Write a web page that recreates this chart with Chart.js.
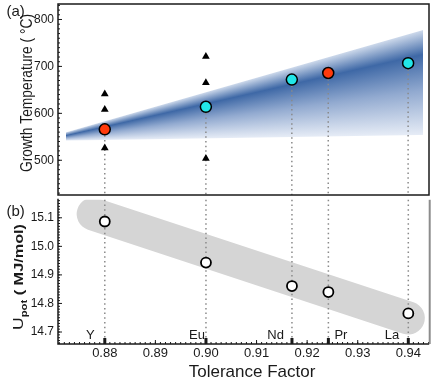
<!DOCTYPE html>
<html>
<head>
<meta charset="utf-8">
<script src="https://cdn.jsdelivr.net/npm/chart.js@4"></script>
<style>
body { margin: 0; background: #fff; width: 436px; height: 382px; position: relative; overflow: hidden; }
canvas { position: absolute; left: 0; }
/* chart.js keeps ~5px above/below the plot, so the canvases are shifted to line the panels up */
#top { top: -3px; }
#bot { top: 193px; }
</style>
</head>
<body>
<canvas id="top" width="436" height="205"></canvas>
<canvas id="bot" width="436" height="189"></canvas>
<script>
// values
const elements = ['Y', 'Eu', 'Nd', 'Pr', 'La'];
const tolerance = [0.88, 0.90, 0.917, 0.9242, 0.94];
const growthTemp = [566, 614, 672, 686, 707];
const redElements = ['Y', 'Pr'];
const triTolerance = [0.88, 0.88, 0.88, 0.90, 0.90, 0.90];
const triTemp = [641, 608, 526, 721, 665, 504];
const upot = [15.087, 14.943, 14.861, 14.840, 14.765];

// shaded window (top) and grey trend (bottom)
const bandTolerance = [0.8725, 0.9428];
const bandUpper = [560, 777];
const bandCore = [553, 725];
const bandLower = [542, 554];
const trendTolerance = [0.8777, 0.94];
const trendUpot = [15.113, 14.749];

const tempTicks = [500, 600, 700, 800];
const upotTicks = [14.7, 14.8, 14.9, 15.0, 15.1];
const tolTicks = [0.88, 0.89, 0.90, 0.91, 0.92, 0.93, 0.94];

const font = 'Liberation Sans';
const ink = '#1a1a1a';
const xRange = { min: 0.87075, max: 0.94413 };

// fixed axis width, and no extra room for the end labels
function fixWidth(s) {
    s.width = 58;
    s.paddingTop = 0;
    s.paddingBottom = 0;
}

function minorValues(min, max, step) {
    const out = [];
    for (let k = Math.ceil(min / step - 1e-9); k * step <= max + 1e-9; k++) out.push(k * step);
    return out;
}

function leftTicks(ctx, scale, area, values, len) {
    values.forEach(v => {
        const y = scale.getPixelForValue(v);
        ctx.beginPath();
        ctx.moveTo(area.left, y);
        ctx.lineTo(area.left + len, y);
        ctx.stroke();
    });
}

function bottomTicks(ctx, scale, area, values, len) {
    values.forEach(v => {
        const x = scale.getPixelForValue(v);
        ctx.beginPath();
        ctx.moveTo(x, area.bottom);
        ctx.lineTo(x, area.bottom - len);
        ctx.stroke();
    });
}

function dotted(ctx, x, y0, y1) {
    ctx.save();
    ctx.strokeStyle = '#8a8a8a';
    ctx.lineWidth = 1.5;
    ctx.setLineDash([1.5, 3.2]);
    ctx.beginPath();
    ctx.moveTo(x, y0);
    ctx.lineTo(x, y1);
    ctx.stroke();
    ctx.restore();
}

// rotated title squeezed/stretched to a given length
function rotatedText(ctx, parts, cx, cy, length) {
    ctx.save();
    ctx.textAlign = 'left';
    ctx.textBaseline = 'alphabetic';
    let w = 0;
    parts.forEach(p => { ctx.font = p.font; p.w = ctx.measureText(p.text).width; w += p.w; });
    ctx.translate(cx, cy);
    ctx.rotate(-Math.PI / 2);
    ctx.scale(length / w, 1);
    ctx.fillStyle = ink;
    let x = -w / 2;
    parts.forEach(p => { ctx.font = p.font; ctx.fillText(p.text, x, p.dy || 0); x += p.w; });
    ctx.restore();
}

const topPlugin = {
    id: 'topDecor',
    beforeDatasetsDraw(chart) {
        const { ctx, scales: { x, y }, chartArea } = chart;
        const x0 = x.getPixelForValue(bandTolerance[0]);
        const x1 = x.getPixelForValue(bandTolerance[1]);
        const lerp = (arr, t) => arr[0] + (arr[1] - arr[0]) * t;
        ctx.save();
        for (let px = Math.floor(x0); px < x1; px++) {
            const t = (px + 0.5 - x0) / (x1 - x0);
            const yU = y.getPixelForValue(lerp(bandUpper, t));
            const yC = y.getPixelForValue(lerp(bandCore, t));
            const yL = y.getPixelForValue(lerp(bandLower, t));
            const c = Math.min(Math.max((yC - yU) / (yL - yU), 0.01), 0.99);
            const g = ctx.createLinearGradient(0, yU, 0, yL);
            g.addColorStop(0, 'rgb(205,217,235)');
            g.addColorStop(c, 'rgb(62,104,166)');
            g.addColorStop(c + (1 - c) * 0.45, 'rgb(146,170,208)');
            g.addColorStop(1, 'rgb(230,236,246)');
            ctx.fillStyle = g;
            ctx.fillRect(px, yU, 1, yL - yU);
        }
        ctx.restore();
        tolerance.forEach((t, i) => {
            dotted(ctx, x.getPixelForValue(t), y.getPixelForValue(growthTemp[i]) + 6, chartArea.bottom);
        });
    },
    afterDraw(chart) {
        const { ctx, scales: { y }, chartArea: a } = chart;
        ctx.save();
        ctx.strokeStyle = ink;
        ctx.lineWidth = 1;
        leftTicks(ctx, y, a, minorValues(y.min, y.max, 10), 2);
        leftTicks(ctx, y, a, tempTicks, 4);
        ctx.lineWidth = 1.5;
        ctx.strokeRect(a.left, a.top, a.right - a.left, a.bottom - a.top);
        ctx.fillStyle = ink;
        ctx.font = '15px ' + font;
        ctx.textBaseline = 'middle';
        ctx.textAlign = 'left';
        ctx.fillText('(a)', 6.5, 15);
        rotatedText(ctx, [{ text: 'Growth Temperature ( °C)', font: '17px ' + font }], 31.5, 96, 158);
        ctx.restore();
    }
};

const botPlugin = {
    id: 'botDecor',
    afterDatasetDraw(chart, args) {
        if (args.index !== 0) return;
        const { ctx, scales: { x }, chartArea } = chart;
        tolerance.forEach(t => dotted(ctx, x.getPixelForValue(t), chartArea.top, chartArea.bottom));
    },
    afterDraw(chart) {
        const { ctx, scales: { x, y }, chartArea: a } = chart;
        ctx.save();
        ctx.strokeStyle = ink;
        ctx.lineWidth = 1;
        leftTicks(ctx, y, a, minorValues(y.min, y.max, 0.01), 2);
        leftTicks(ctx, y, a, upotTicks, 4);
        bottomTicks(ctx, x, a, minorValues(x.min, x.max, 0.001), 2);
        bottomTicks(ctx, x, a, tolTicks, 4);
        ctx.lineWidth = 3;
        bottomTicks(ctx, x, a, tolerance, 6);
        ctx.lineWidth = 1.5;
        ctx.beginPath();
        ctx.moveTo(a.right, a.bottom);
        ctx.lineTo(a.left, a.bottom);
        ctx.lineTo(a.left, a.top - 1);
        ctx.stroke();
        ctx.strokeStyle = '#8c8c8c';
        ctx.lineWidth = 2;
        ctx.beginPath();
        ctx.moveTo(a.right + 0.5, a.top);
        ctx.lineTo(a.right + 0.5, a.bottom);
        ctx.stroke();

        // element names next to their ticks
        ctx.fillStyle = ink;
        ctx.font = '13px ' + font;
        ctx.textBaseline = 'alphabetic';
        const shift = [-10, -1, -8, 6, -9];
        elements.forEach((e, i) => {
            ctx.textAlign = shift[i] < 0 ? 'right' : 'left';
            ctx.fillText(e, x.getPixelForValue(tolerance[i]) + shift[i], a.bottom - 5.5);
        });

        ctx.font = '15px ' + font;
        ctx.textAlign = 'left';
        ctx.textBaseline = 'middle';
        ctx.fillText('(b)', 6.5, 19);
        ctx.font = '17px ' + font;
        ctx.textAlign = 'center';
        ctx.fillText('Tolerance Factor', 252, 179);
        rotatedText(ctx, [
            { text: 'U', font: '14px ' + font },
            { text: 'pot', font: 'bold 9px ' + font, dy: 4 },
            { text: ' ( MJ/mol)', font: 'bold 13px ' + font }
        ], 22.5, 84, 106);
        ctx.restore();
    }
};

new Chart(document.getElementById('top'), {
    type: 'scatter',
    data: {
        datasets: [{
            label: 'reported',
            data: triTolerance.map((t, i) => ({ x: t, y: triTemp[i] })),
            pointStyle: 'triangle',
            pointRadius: 4.5,
            backgroundColor: '#000',
            borderColor: '#000',
            borderWidth: 0
        }, {
            label: 'films',
            data: tolerance.map((t, i) => ({ x: t, y: growthTemp[i] })),
            pointRadius: 5.5,
            borderWidth: 1.5,
            borderColor: '#000',
            backgroundColor: elements.map(e => redElements.includes(e) ? '#ff3a0c' : '#22e6e8')
        }]
    },
    options: {
        responsive: false,
        animation: false,
        devicePixelRatio: 1,
        layout: { padding: { top: 0, bottom: 0, right: 5, left: 0 } },
        plugins: { legend: { display: false }, tooltip: { enabled: false } },
        scales: {
            x: { type: 'linear', display: false, ...xRange },
            y: {
                min: 426, max: 833,
                afterFit: fixWidth,
                afterBuildTicks: s => { s.ticks = tempTicks.map(v => ({ value: v })); },
                grid: { display: false, drawTicks: false },
                border: { display: false },
                ticks: { padding: 4, color: ink, font: { family: font, size: 12 } }
            }
        }
    },
    plugins: [topPlugin]
});

new Chart(document.getElementById('bot'), {
    type: 'scatter',
    data: {
        datasets: [{
            label: 'trend',
            type: 'line',
            order: 2,
            data: trendTolerance.map((t, i) => ({ x: t, y: trendUpot[i] })),
            borderColor: '#d5d5d5',
            borderWidth: 33,
            borderCapStyle: 'round',
            pointRadius: 0,
            showLine: true,
            fill: false,
            clip: 0
        }, {
            label: 'Upot',
            order: 0,
            data: tolerance.map((t, i) => ({ x: t, y: upot[i] })),
            pointRadius: 5,
            borderWidth: 1.8,
            borderColor: '#000',
            backgroundColor: '#fff'
        }]
    },
    options: {
        responsive: false,
        animation: false,
        devicePixelRatio: 1,
        layout: { padding: { top: 0, bottom: 0, right: 5, left: 0 } },
        plugins: { legend: { display: false }, tooltip: { enabled: false } },
        scales: {
            x: {
                type: 'linear', ...xRange,
                afterFit: s => { s.height = 38; s.paddingLeft = 0; s.paddingRight = 0; },
                afterBuildTicks: s => { s.ticks = tolTicks.map(v => ({ value: v })); },
                grid: { display: false, drawTicks: false },
                border: { display: false },
                ticks: { padding: 2, color: ink, maxRotation: 0, font: { family: font, size: 13 }, callback: v => v.toFixed(2) }
            },
            y: {
                min: 14.658, max: 15.163,
                afterFit: fixWidth,
                afterBuildTicks: s => { s.ticks = upotTicks.map(v => ({ value: v })); },
                grid: { display: false, drawTicks: false },
                border: { display: false },
                ticks: { padding: 4, color: ink, font: { family: font, size: 12 }, callback: v => v.toFixed(1) }
            }
        }
    },
    plugins: [botPlugin]
});
</script>
</body>
</html>
